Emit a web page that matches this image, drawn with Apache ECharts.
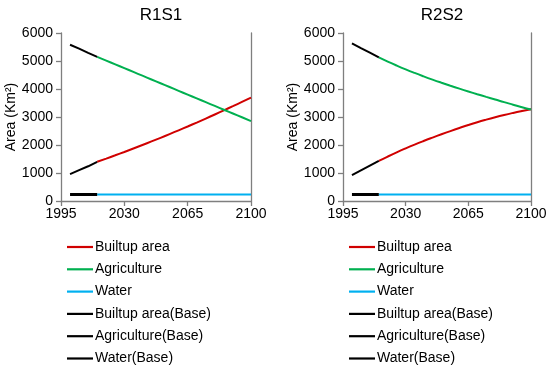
<!DOCTYPE html>
<html>
<head>
<meta charset="utf-8">
<script src="https://cdn.jsdelivr.net/npm/echarts@6/dist/echarts.min.js"></script>
<style>
html,body{margin:0;padding:0;background:#fff;}
#chart{width:550px;height:368px;}
</style>
</head>
<body>
<div id="chart"></div>
<script>
// ---- data ----
var panelTitles = ['R1S1', 'R2S2'];
var xTicks = [1995, 2030, 2065, 2100];
var yTicks = [0, 1000, 2000, 3000, 4000, 5000, 6000];
var seriesNames = ['Builtup area', 'Agriculture', 'Water', 'Builtup area(Base)', 'Agriculture(Base)', 'Water(Base)'];

var baseYears = [2000, 2005, 2010, 2015];
var projYears = [2015, 2020, 2025, 2030, 2035, 2040, 2045, 2050, 2055, 2060, 2065, 2070, 2075, 2080, 2085, 2090, 2095, 2100];

// R1S1
var r1BuiltBase = [960, 1100, 1240, 1400];
var r1AgriBase  = [5580, 5440, 5290, 5150];
var r1WaterBase = [230, 230, 230, 230];
var r1Built = [1400, 1515, 1632, 1752, 1875, 2000, 2127, 2257, 2390, 2525, 2662, 2802, 2945, 3090, 3237, 3387, 3540, 3695];
var r1Agri  = [5150, 5015, 4880, 4745, 4610, 4475, 4340, 4205, 4070, 3935, 3800, 3665, 3530, 3395, 3260, 3125, 2990, 2855];
var r1Water = [230, 230, 230, 230, 230, 230, 230, 230, 230, 230, 230, 230, 230, 230, 230, 230, 230, 230];

// R2S2
var r2BuiltBase = [920, 1090, 1260, 1430];
var r2AgriBase  = [5630, 5460, 5300, 5130];
var r2WaterBase = [230, 230, 230, 230];
var r2Built = [1430, 1588, 1738, 1880, 2015, 2143, 2265, 2383, 2497, 2607, 2714, 2814, 2906, 2992, 3072, 3146, 3215, 3280];
var r2Agri  = [5130, 4980, 4838, 4703, 4575, 4453, 4336, 4224, 4116, 4012, 3911, 3813, 3718, 3625, 3530, 3440, 3350, 3265];
var r2Water = [230, 230, 230, 230, 230, 230, 230, 230, 230, 230, 230, 230, 230, 230, 230, 230, 230, 230];

var colors = ['#D00000', '#00B050', '#00B0F0', '#000000', '#000000', '#000000'];

function pairs(xs, ys) { return xs.map(function (x, i) { return [x, ys[i]]; }); }

var panels = [
  { left: 61, width: 190, data: [r1Built, r1Agri, r1Water, r1BuiltBase, r1AgriBase, r1WaterBase] },
  { left: 343, width: 188, data: [r2Built, r2Agri, r2Water, r2BuiltBase, r2AgriBase, r2WaterBase] }
];

var FONT = 'Liberation Sans, Arial, sans-serif';
var axisColor = '#7f7f7f';
function plain(v) { return String(v); }

var option = { animation: false, title: [], grid: [], xAxis: [], yAxis: [], series: [], legend: [] };

panels.forEach(function (p, pi) {
  option.title.push({
    text: panelTitles[pi], left: p.left + p.width / 2, top: 2, textAlign: 'center',
    textStyle: { fontFamily: FONT, fontSize: 17, fontWeight: 'normal', color: '#000' }
  });
  option.grid.push({ left: p.left, top: 33, width: p.width, height: 168 });
  option.xAxis.push({
    type: 'value', gridIndex: pi, min: xTicks[0], max: xTicks[xTicks.length - 1], interval: 35,
    axisLine: { show: true, onZero: false, lineStyle: { color: axisColor, width: 1.3 } },
    axisTick: { show: true, length: 5, lineStyle: { color: axisColor, width: 1.3 } },
    axisLabel: { color: '#000', fontFamily: FONT, fontSize: 14, margin: 6, showMaxLabel: true, showMinLabel: true, formatter: plain },
    splitLine: { show: false }
  });
  option.yAxis.push({
    type: 'value', gridIndex: pi, min: yTicks[0], max: yTicks[yTicks.length - 1], interval: 1000,
    name: 'Area (Km²)', nameLocation: 'middle', nameGap: 42, nameRotate: 90,
    nameTextStyle: { color: '#000', fontFamily: FONT, fontSize: 14 },
    axisLine: { show: true, lineStyle: { color: axisColor, width: 1.3 } },
    axisTick: { show: true, length: 5, lineStyle: { color: axisColor, width: 1.3 } },
    axisLabel: { color: '#000', fontFamily: FONT, fontSize: 14, margin: 8, formatter: plain },
    splitLine: { show: false }
  });
  // right border line
  option.yAxis.push({
    type: 'value', gridIndex: pi, position: 'right', min: 0, max: 6000, interval: 1000,
    axisLine: { show: true, lineStyle: { color: axisColor, width: 1.3 } },
    axisTick: { show: false }, axisLabel: { show: false }, splitLine: { show: false }
  });
  var yIdx = pi * 2;
  seriesNames.forEach(function (name, si) {
    var xs = si < 3 ? projYears : baseYears;
    option.series.push({
      name: name, type: 'line', xAxisIndex: pi, yAxisIndex: yIdx,
      data: pairs(xs, p.data[si]), showSymbol: false, symbol: 'none', smooth: si < 3,
      lineStyle: { color: colors[si], width: si === 5 ? 3 : 2 },
      itemStyle: { color: colors[si] },
      z: si < 3 ? 2 : 3
    });
  });
  option.legend.push({
    orient: 'vertical', left: p.left + 1, top: 235, height: 140,
    data: seriesNames, icon: 'rect', itemWidth: 26, itemHeight: 2.2, itemGap: 8.3,
    selectedMode: false,
    textStyle: { color: '#000', fontFamily: FONT, fontSize: 14, lineHeight: 14, padding: [0, 0, 0, -3] }
  });
});

var chart = echarts.init(document.getElementById('chart'), null, { renderer: 'canvas' });
chart.setOption(option);
</script>
</body>
</html>
